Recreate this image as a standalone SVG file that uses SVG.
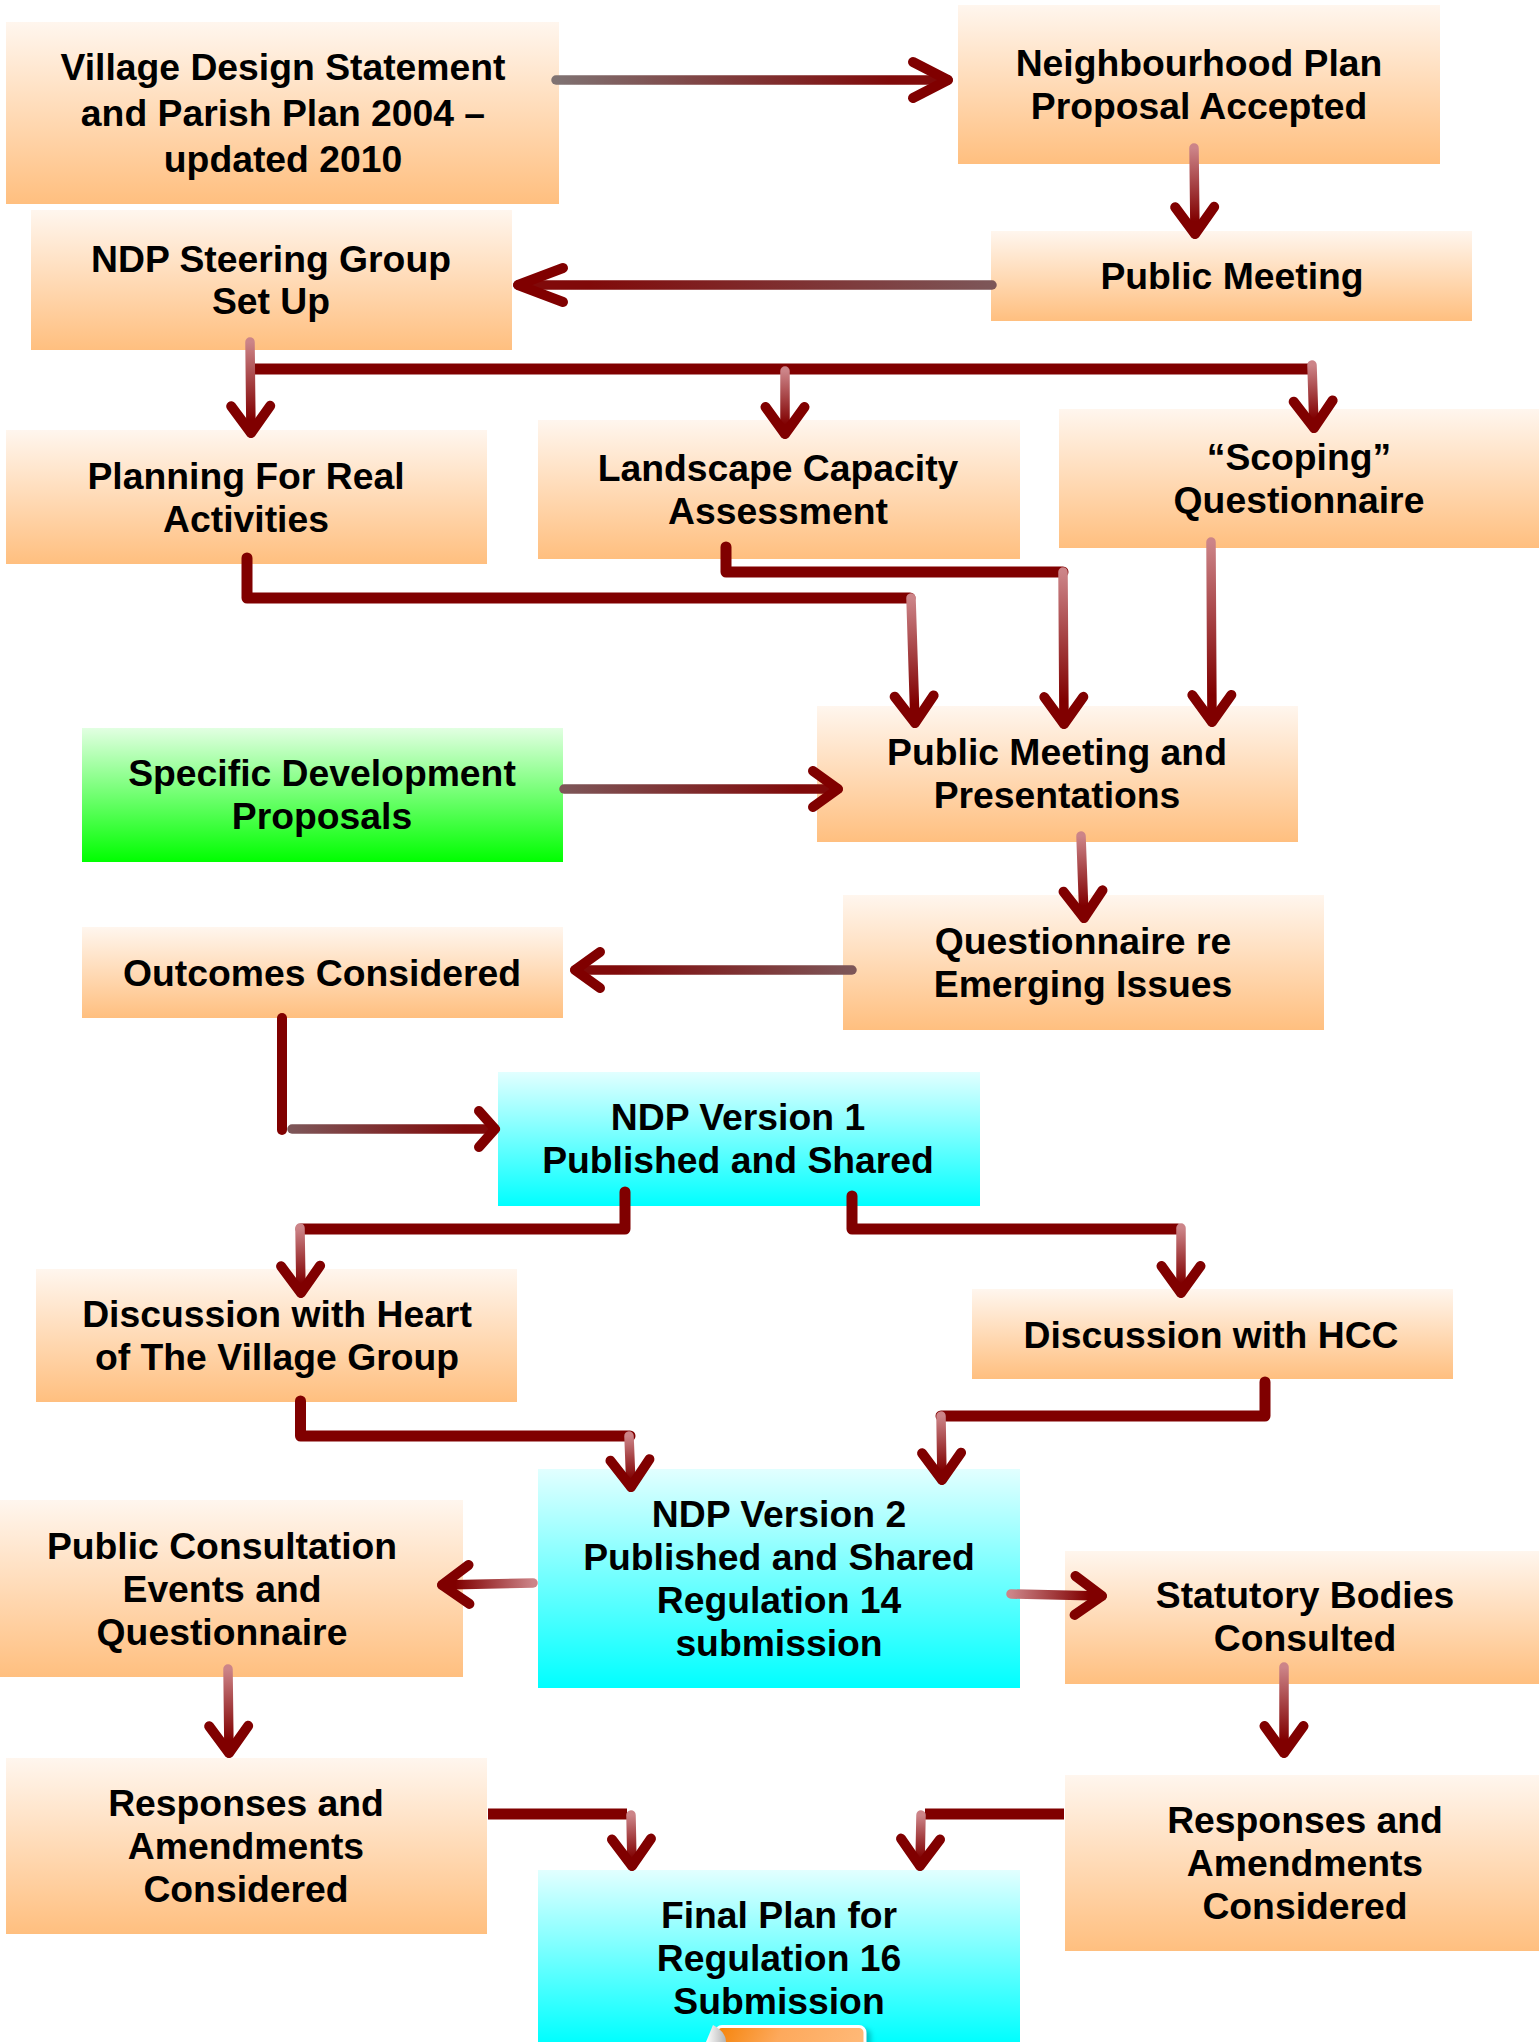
<svg xmlns="http://www.w3.org/2000/svg" xmlns:xlink="http://www.w3.org/1999/xlink" width="1539" height="2042" viewBox="0 0 1539 2042">
<style>
text{font-family:"Liberation Sans",Arial,sans-serif;font-weight:700;font-size:37.300px;fill:#000;text-anchor:middle}
.o{fill:url(#gO)}.c{fill:url(#gC)}.g{fill:url(#gG)}
.t{fill:none;stroke:#800000;stroke-width:11;stroke-linecap:round;stroke-linejoin:round}
.b{stroke-linecap:butt}
.a{fill:none;stroke-width:9.500;stroke-linecap:round}
.h{fill:none;stroke:#800000;stroke-width:10;stroke-linecap:round;stroke-linejoin:round}
</style>
<defs>
<linearGradient id="gO" x1="0" y1="0" x2="0" y2="1"><stop offset="0" stop-color="#fff6ee"/><stop offset="1" stop-color="#ffbf7f"/></linearGradient>
<linearGradient id="gC" x1="0" y1="0" x2="0" y2="1"><stop offset="0" stop-color="#e2ffff"/><stop offset="1" stop-color="#00ffff"/></linearGradient>
<linearGradient id="gG" x1="0" y1="0" x2="0" y2="1"><stop offset="0" stop-color="#e2ffe2"/><stop offset="1" stop-color="#00ff00"/></linearGradient>
<linearGradient id="gI" x1="0" y1="0" x2="1" y2="0.1"><stop offset="0" stop-color="#f58207"/><stop offset="0.45" stop-color="#fda95c"/><stop offset="1" stop-color="#ffb876"/></linearGradient>
<linearGradient id="gF" x1="0" y1="0" x2="1" y2="0"><stop offset="0" stop-color="#ffffff"/><stop offset="1" stop-color="#b5b5b5"/></linearGradient>
<linearGradient id="p" gradientUnits="userSpaceOnUse"><stop offset="0" stop-color="#cc8488"/><stop offset="0.85" stop-color="#800000"/></linearGradient>
<linearGradient id="q" gradientUnits="userSpaceOnUse"><stop offset="0" stop-color="#7f7272"/><stop offset="0.85" stop-color="#800a0a"/></linearGradient>
<linearGradient id="r" gradientUnits="userSpaceOnUse"><stop offset="0" stop-color="#7d5658"/><stop offset="0.85" stop-color="#800a0a"/></linearGradient>
<linearGradient id="p1" xlink:href="#p" x1="1194" y1="148" x2="1195" y2="234"/>
<linearGradient id="p2" xlink:href="#p" x1="250" y1="342" x2="251" y2="433"/>
<linearGradient id="p3" xlink:href="#p" x1="785" y1="371" x2="785" y2="434"/>
<linearGradient id="p4" xlink:href="#p" x1="1312" y1="365" x2="1314" y2="428"/>
<linearGradient id="p5" xlink:href="#p" x1="911" y1="598" x2="915" y2="723"/>
<linearGradient id="p6" xlink:href="#p" x1="1063" y1="572" x2="1064" y2="724"/>
<linearGradient id="p7" xlink:href="#p" x1="1211" y1="542" x2="1212" y2="722"/>
<linearGradient id="p8" xlink:href="#p" x1="1081" y1="836" x2="1084" y2="918"/>
<linearGradient id="p9" xlink:href="#p" x1="300" y1="1228" x2="301" y2="1293"/>
<linearGradient id="p10" xlink:href="#p" x1="1181" y1="1228" x2="1181" y2="1293"/>
<linearGradient id="p11" xlink:href="#p" x1="629" y1="1436" x2="631" y2="1487"/>
<linearGradient id="p12" xlink:href="#p" x1="941" y1="1416" x2="942" y2="1480"/>
<linearGradient id="p13" xlink:href="#p" x1="533" y1="1583" x2="442" y2="1585"/>
<linearGradient id="p14" xlink:href="#p" x1="1011" y1="1594" x2="1102" y2="1596"/>
<linearGradient id="p15" xlink:href="#p" x1="1284" y1="1667" x2="1284" y2="1753"/>
<linearGradient id="p16" xlink:href="#p" x1="228" y1="1669" x2="229" y2="1753"/>
<linearGradient id="p17" xlink:href="#p" x1="631" y1="1815" x2="632" y2="1866"/>
<linearGradient id="p18" xlink:href="#p" x1="921" y1="1815" x2="920" y2="1866"/>
<linearGradient id="q1" xlink:href="#q" x1="556" y1="80" x2="948" y2="80"/>
<linearGradient id="q2" xlink:href="#r" x1="992" y1="285" x2="518" y2="285"/>
<linearGradient id="q3" xlink:href="#r" x1="564" y1="789" x2="838" y2="789"/>
<linearGradient id="q4" xlink:href="#r" x1="852" y1="970" x2="575" y2="970"/>
<linearGradient id="q5" xlink:href="#r" x1="292" y1="1129" x2="495" y2="1129"/>
<marker id="am" markerUnits="userSpaceOnUse" orient="auto" refX="0" refY="0" markerWidth="80" markerHeight="80" overflow="visible"><path class="h" d="M-27-19.500L0 0L-27 19.500"/></marker>
<marker id="as" markerUnits="userSpaceOnUse" orient="auto" refX="0" refY="0" markerWidth="80" markerHeight="80" overflow="visible"><path class="h" d="M-16-18L0 0L-16 18"/></marker>
<marker id="ac" markerUnits="userSpaceOnUse" orient="auto" refX="0" refY="0" markerWidth="80" markerHeight="80" overflow="visible"><path class="h" d="M-25-18L0 0L-25 18"/></marker>
<marker id="at" markerUnits="userSpaceOnUse" orient="auto" refX="0" refY="0" markerWidth="80" markerHeight="80" overflow="visible"><path class="h" d="M-35-18L0 0L-35 18"/></marker>
<marker id="al" markerUnits="userSpaceOnUse" orient="auto" refX="0" refY="0" markerWidth="80" markerHeight="80" overflow="visible"><path class="h" d="M-45-17L0 0L-45 17"/></marker>
<filter id="sh" x="-10%" y="-20%" width="120%" height="140%"><feGaussianBlur stdDeviation="2.500"/></filter>
</defs>
<rect width="1539" height="2042" fill="#fff"/>
<g id="nodes">
<g id="n-village"><rect class="o" x="6" y="22" width="553" height="182"/><text x="283" y="80">Village Design Statement</text><text x="283" y="126">and Parish Plan 2004 –</text><text x="283" y="172">updated 2010</text></g>
<g id="n-proposal"><rect class="o" x="958" y="5" width="482" height="159"/><text x="1199" y="76">Neighbourhood Plan</text><text x="1199" y="119">Proposal Accepted</text></g>
<g id="n-steering"><rect class="o" x="31" y="210" width="481" height="140"/><text x="271" y="272">NDP Steering Group</text><text x="271" y="314">Set Up</text></g>
<g id="n-meeting"><rect class="o" x="991" y="231" width="481" height="90"/><text x="1232" y="289">Public Meeting</text></g>
<g id="n-planning"><rect class="o" x="6" y="430" width="481" height="134"/><text x="246" y="489">Planning For Real</text><text x="246" y="532">Activities</text></g>
<g id="n-landscape"><rect class="o" x="538" y="420" width="482" height="139"/><text x="778" y="481">Landscape Capacity</text><text x="778" y="524">Assessment</text></g>
<g id="n-scoping"><rect class="o" x="1059" y="409" width="480" height="139"/><text x="1299" y="470">“Scoping”</text><text x="1299" y="513">Questionnaire</text></g>
<g id="n-specific"><rect class="g" x="82" y="728" width="481" height="134"/><text x="322" y="786">Specific Development</text><text x="322" y="829">Proposals</text></g>
<g id="n-presentations"><rect class="o" x="817" y="706" width="481" height="136"/><text x="1057" y="765">Public Meeting and</text><text x="1057" y="808">Presentations</text></g>
<g id="n-emerging"><rect class="o" x="843" y="895" width="481" height="135"/><text x="1083" y="954">Questionnaire re</text><text x="1083" y="997">Emerging Issues</text></g>
<g id="n-outcomes"><rect class="o" x="82" y="927" width="481" height="91"/><text x="322" y="986">Outcomes Considered</text></g>
<g id="n-v1"><rect class="c" x="498" y="1072" width="482" height="134"/><text x="738" y="1130">NDP Version 1</text><text x="738" y="1173">Published and Shared</text></g>
<g id="n-heart"><rect class="o" x="36" y="1269" width="481" height="133"/><text x="277" y="1327">Discussion with Heart</text><text x="277" y="1370">of The Village Group</text></g>
<g id="n-hcc"><rect class="o" x="972" y="1289" width="481" height="90"/><text x="1211" y="1348">Discussion with HCC</text></g>
<g id="n-v2"><rect class="c" x="538" y="1469" width="482" height="219"/><text x="779" y="1527">NDP Version 2</text><text x="779" y="1570">Published and Shared</text><text x="779" y="1613">Regulation 14</text><text x="779" y="1656">submission</text></g>
<g id="n-events"><rect class="o" x="0" y="1500" width="463" height="177"/><text x="222" y="1559">Public Consultation</text><text x="222" y="1602">Events and</text><text x="222" y="1645">Questionnaire</text></g>
<g id="n-statutory"><rect class="o" x="1065" y="1551" width="474" height="133"/><text x="1305" y="1608">Statutory Bodies</text><text x="1305" y="1651">Consulted</text></g>
<g id="n-resp-left"><rect class="o" x="6" y="1758" width="481" height="176"/><text x="246" y="1816">Responses and</text><text x="246" y="1859">Amendments</text><text x="246" y="1902">Considered</text></g>
<g id="n-resp-right"><rect class="o" x="1065" y="1775" width="474" height="176"/><text x="1305" y="1833">Responses and</text><text x="1305" y="1876">Amendments</text><text x="1305" y="1919">Considered</text></g>
<g id="n-final"><rect class="c" x="538" y="1870" width="482" height="172"/><text x="779" y="1928">Final Plan for</text><text x="779" y="1971">Regulation 16</text><text x="779" y="2014">Submission</text>
<rect x="722" y="2029" width="149" height="30" rx="6" fill="#008f99" opacity="0.55" filter="url(#sh)"/>
<rect x="716" y="2026.500" width="149" height="30" rx="6" fill="url(#gI)" stroke="#fff" stroke-width="3"/>
<path d="M713 2025L706 2042H726Q726 2032 713 2025Z" fill="url(#gF)"/></g>
</g>
<g id="connectors">
<path class="t" d="M255 369H1308"/>
<path class="t" d="M247 558V598H910"/>
<path class="t" d="M726 547V572H1063"/>
<path class="t" d="M282 1018V1130" style="stroke-width:10"/>
<path class="t" d="M625 1192V1229H301"/>
<path class="t" d="M852 1196V1229H1178"/>
<path class="t" d="M300.500 1401V1436H630"/>
<path class="t" d="M1265 1382V1416H941"/>
<path class="t b" d="M488 1814H627"/>
<path class="t b" d="M1064 1814H925"/>
<path class="a" stroke="url(#q1)" marker-end="url(#at)" d="M556 80H948"/>
<path class="a" stroke="url(#p1)" marker-end="url(#am)" d="M1194 148L1195 234"/>
<path class="a" stroke="url(#q2)" marker-end="url(#al)" d="M992 285H518"/>
<path class="a" stroke="url(#p2)" marker-end="url(#am)" d="M250 342L251 433"/>
<path class="a" stroke="url(#p3)" marker-end="url(#am)" d="M785 371V434"/>
<path class="a" stroke="url(#p4)" marker-end="url(#am)" d="M1312 365L1314 428"/>
<path class="a" stroke="url(#p5)" marker-end="url(#am)" d="M911 598L915 723"/>
<path class="a" stroke="url(#p6)" marker-end="url(#am)" d="M1063 572L1064 724"/>
<path class="a" stroke="url(#p7)" marker-end="url(#am)" d="M1211 542L1212 722"/>
<path class="a" stroke="url(#q3)" marker-end="url(#ac)" d="M564 789H838"/>
<path class="a" stroke="url(#p8)" marker-end="url(#am)" d="M1081 836L1084 918"/>
<path class="a" stroke="url(#q4)" marker-end="url(#ac)" d="M852 970H575"/>
<path class="a" stroke="url(#q5)" marker-end="url(#as)" d="M292 1129H495"/>
<path class="a" stroke="url(#p9)" marker-end="url(#am)" d="M300 1228L301 1293"/>
<path class="a" stroke="url(#p10)" marker-end="url(#am)" d="M1181 1228V1293"/>
<path class="a" stroke="url(#p11)" marker-end="url(#am)" d="M629 1436L631 1487"/>
<path class="a" stroke="url(#p12)" marker-end="url(#am)" d="M941 1416L942 1480"/>
<path class="a" stroke="url(#p13)" marker-end="url(#am)" d="M533 1583L442 1585"/>
<path class="a" stroke="url(#p14)" marker-end="url(#am)" d="M1011 1594L1102 1596"/>
<path class="a" stroke="url(#p15)" marker-end="url(#am)" d="M1284 1667V1753"/>
<path class="a" stroke="url(#p16)" marker-end="url(#am)" d="M228 1669L229 1753"/>
<path class="a" stroke="url(#p17)" marker-end="url(#am)" d="M631 1815L632 1866"/>
<path class="a" stroke="url(#p18)" marker-end="url(#am)" d="M921 1815L920 1866"/>
</g>
</svg>
